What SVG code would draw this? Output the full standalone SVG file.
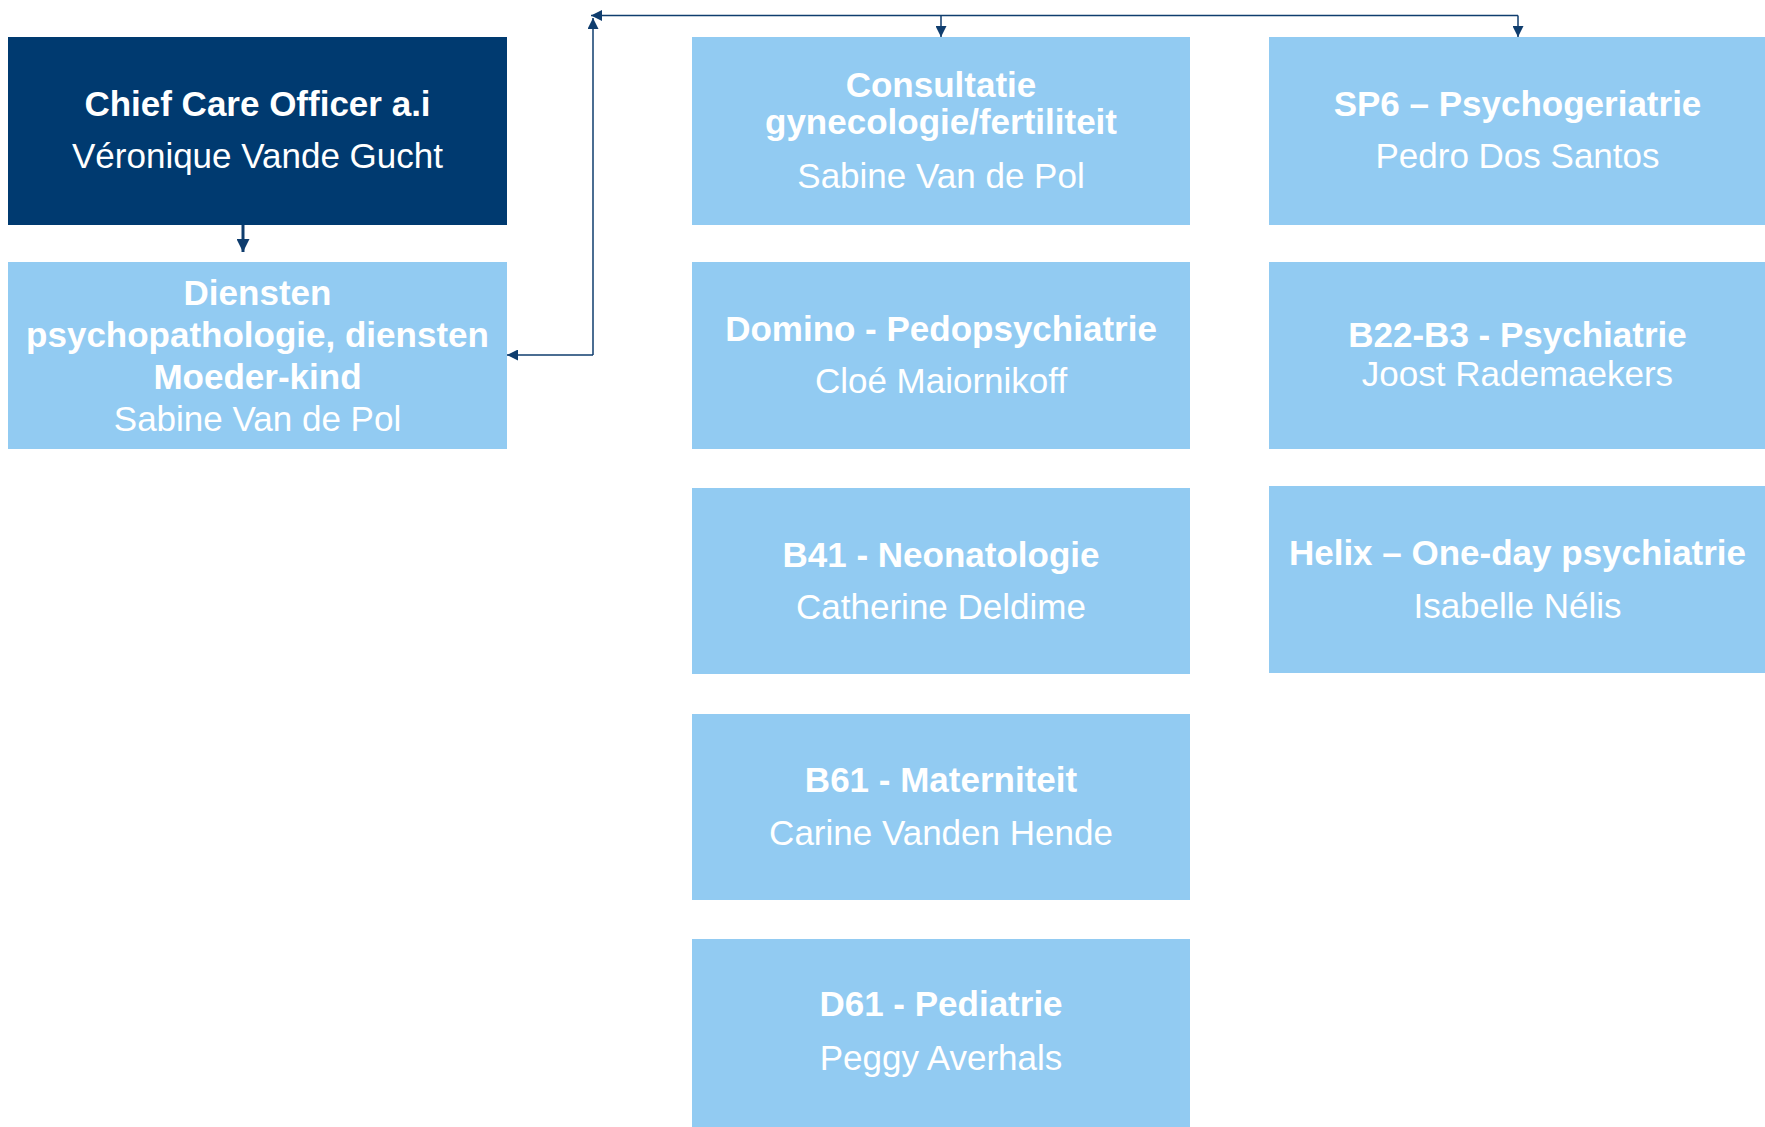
<svg xmlns="http://www.w3.org/2000/svg" width="1765" height="1127" viewBox="0 0 1765 1127">
  <style>
    .dark { fill: #003A70; }
    .light { fill: #92CBF2; }
    text { font-family: "Liberation Sans", Arial, sans-serif; font-size: 35px; fill: #FFFFFF; text-anchor: middle; }
    .b { font-weight: bold; }
    .conn { fill: none; stroke: #0F3D6E; stroke-width: 1.5; }
    .thick { stroke-width: 3; }
  </style>
  <defs>
    <marker id="arr" viewBox="0 0 10 10" refX="10" refY="5" markerWidth="12" markerHeight="11" markerUnits="userSpaceOnUse" orient="auto">
      <path d="M0,0 L10,5 L0,10 z" fill="#0F3D6E"/>
    </marker>
    <marker id="arrBig" viewBox="0 0 10 10" refX="10" refY="5" markerWidth="13" markerHeight="13" markerUnits="userSpaceOnUse" orient="auto">
      <path d="M0,0 L10,5 L0,10 z" fill="#0F3D6E"/>
    </marker>
  </defs>
  <rect width="1765" height="1127" fill="#FFFFFF"/>

  <g id="connectors">
    <path class="conn thick" d="M243,225 L243,252" marker-end="url(#arrBig)"/>
    <path class="conn" d="M593,355 L593,18" marker-end="url(#arr)"/>
    <path class="conn" d="M593,355 L507,355" marker-end="url(#arr)"/>
    <path class="conn" d="M1518,15.5 L591,15.5" marker-end="url(#arr)"/>
    <path class="conn" d="M941,15.5 L941,37" marker-end="url(#arr)"/>
    <path class="conn" d="M1518,15.5 L1518,37" marker-end="url(#arr)"/>
  </g>

  <g id="chief">
    <rect class="dark" x="8" y="37" width="499" height="188"/>
    <text class="b" x="257.5" y="116">Chief Care Officer a.i</text>
    <text x="257.5" y="168">Véronique Vande Gucht</text>
  </g>

  <g id="diensten">
    <rect class="light" x="8" y="262" width="499" height="187"/>
    <text class="b" x="257.5" y="305">Diensten</text>
    <text class="b" x="257.5" y="347">psychopathologie, diensten</text>
    <text class="b" x="257.5" y="389">Moeder-kind</text>
    <text x="257.5" y="431">Sabine Van de Pol</text>
  </g>

  <g id="consultatie">
    <rect class="light" x="692" y="37" width="498" height="188"/>
    <text class="b" x="941" y="97">Consultatie</text>
    <text class="b" x="941" y="134">gynecologie/fertiliteit</text>
    <text x="941" y="188">Sabine Van de Pol</text>
  </g>

  <g id="domino">
    <rect class="light" x="692" y="262" width="498" height="187"/>
    <text class="b" x="941" y="341">Domino - Pedopsychiatrie</text>
    <text x="941" y="393">Cloé Maiornikoff</text>
  </g>

  <g id="b41">
    <rect class="light" x="692" y="488" width="498" height="186"/>
    <text class="b" x="941" y="567">B41 - Neonatologie</text>
    <text x="941" y="619">Catherine Deldime</text>
  </g>

  <g id="b61">
    <rect class="light" x="692" y="714" width="498" height="186"/>
    <text class="b" x="941" y="792">B61 - Materniteit</text>
    <text x="941" y="845">Carine Vanden Hende</text>
  </g>

  <g id="d61">
    <rect class="light" x="692" y="939" width="498" height="188"/>
    <text class="b" x="941" y="1016">D61 - Pediatrie</text>
    <text x="941" y="1070">Peggy Averhals</text>
  </g>

  <g id="sp6">
    <rect class="light" x="1269" y="37" width="497" height="188"/>
    <text class="b" x="1517.5" y="116">SP6 – Psychogeriatrie</text>
    <text x="1517.5" y="168">Pedro Dos Santos</text>
  </g>

  <g id="b22">
    <rect class="light" x="1269" y="262" width="497" height="187"/>
    <text class="b" x="1517.5" y="347">B22-B3 - Psychiatrie</text>
    <text x="1517.5" y="386">Joost Rademaekers</text>
  </g>

  <g id="helix">
    <rect class="light" x="1269" y="486" width="497" height="187"/>
    <text class="b" x="1517.5" y="565">Helix – One-day psychiatrie</text>
    <text x="1517.5" y="618">Isabelle Nélis</text>
  </g>
</svg>
